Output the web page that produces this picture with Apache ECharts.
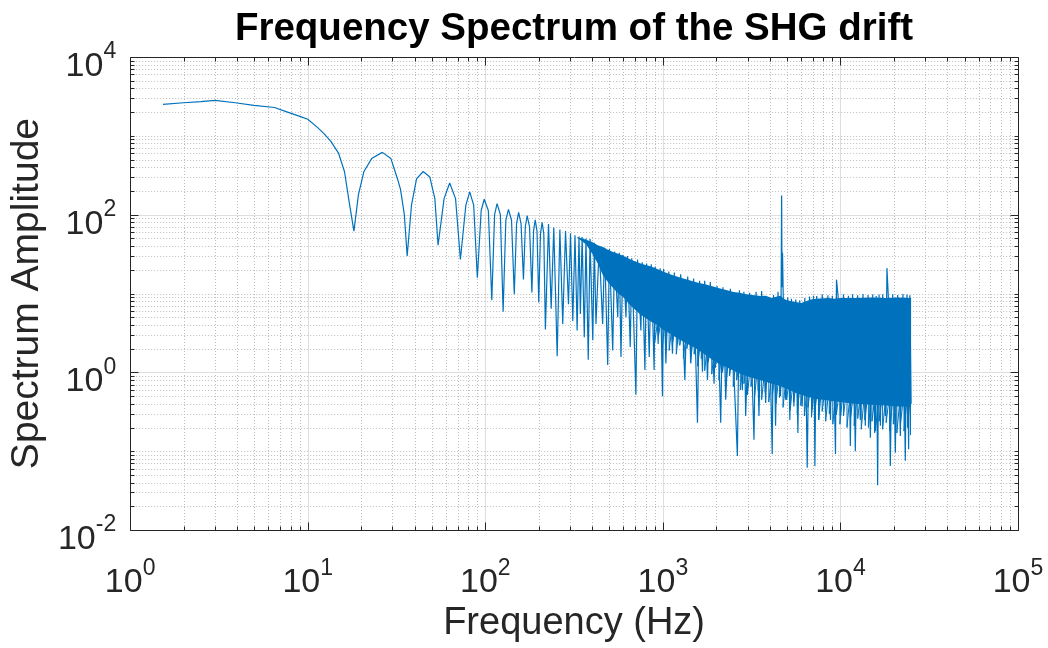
<!DOCTYPE html>
<html><head><meta charset="utf-8">
<script src="https://cdn.jsdelivr.net/npm/echarts@6/dist/echarts.min.js"></script>
<style>html,body{margin:0;padding:0;background:#fff}#c{width:1048px;height:648px}</style>
</head><body><div id="c"></div>
<script>
// ---- data ----
// Frequency (Hz) of each traced point of the spectrum line
const specF = [
  1.53, 2.0, 2.5, 3.0, 3.9, 4.97, 6.5, 7.7, 9.2, 10.0, 11.3, 12.3, 13.5, 14.9, 16.1, 17.2, 18.2,
  19.3, 20.7, 22.9, 26.3, 29.4, 32.1, 33.3, 35.0, 36.3,
  38.4, 41, 44.7, 48.7, 52, 54.2,
  58.6, 63, 68, 72.4,
  77.7, 81.7, 86, 90.2,
  94.8, 98.6, 104, 108.8,
  112.8, 116.5, 121.6, 126,
  130.5, 135, 140.5, 145.6,
  150, 154, 159, 164,
  168, 172, 177.5, 183,
  187, 191, 195.5, 200,
  204.5, 209, 213.5, 218,
  227, 235, 243, 254, 263, 273, 283, 294, 302, 311, 320, 329, 337, 343, 351, 361, 369, 380, 389, 403,
  411, 420, 438, 458, 470, 489, 500, 522, 535, 557, 568, 581, 595, 620, 632, 655, 668, 705, 720, 752,
  765, 792, 810, 838, 860, 893, 905, 941, 965, 995, 1010, 1040, 1080, 1133, 1160, 1210, 1260, 1330,
  1380, 1437, 1490, 1566, 1610, 1671, 1720, 1783, 1850, 1942, 2020, 2117, 2180, 2259, 2400, 2628,
  2700, 2803, 2860, 2926, 3080, 3260, 3350, 3477, 3600, 3793, 3950, 4130, 4200, 4312, 4450, 4600,
  4665, 4690, 4720, 4760, 4910, 5050, 5190, 5300, 5470, 5600, 5760, 5900, 6090, 6300, 6500, 6700,
  6940, 7050, 7180, 7350, 7560, 7900, 8240, 8500, 8790, 9000, 9380, 9500, 9700, 10000, 10400, 10900,
  11100, 11370, 11700, 12130, 12500, 12940, 13400, 13810, 14300, 14740, 15200, 15590, 15900, 16200,
  16500, 16790, 17300, 17910, 18280, 18600, 19100, 19700, 20380, 21000, 21740, 22500, 23190, 23700,
  24210, 24600, 25000
];
// Spectrum amplitude of each traced point
const specA = [
  2510, 2630, 2720, 2820, 2630, 2440, 2290, 2000, 1740, 1625, 1290, 1075, 850, 605, 353, 135, 62,
  180, 350, 515, 617, 515, 280, 209, 100, 30,
  132, 285, 353, 300, 160, 41,
  160, 252, 160, 27,
  132, 195, 132, 15.9,
  113, 157, 113, 8.2,
  100, 138, 100, 5.9,
  85, 117, 85, 9.8,
  77, 107, 77, 15.1,
  70, 97, 70, 10.3,
  62, 86, 62, 7.7,
  57, 80, 57, 3.5,
  76, 6.4, 69, 1.6, 65, 4.1, 62, 7.3, 58, 4.5, 55, 3.4, 53, 5.5, 52, 2.8, 50, 1.45, 49, 2.55,
  44, 4.1, 40, 4.1, 38, 1.24, 37, 1.9, 34, 5.0, 33, 1.57, 31, 5.0, 30, 2.1, 28, 0.52, 27, 3.4,
  25, 1.07, 24, 1.57, 23.5, 1.07, 22, 2.3, 21, 0.50, 20.5, 1.3, 19, 1.73, 18.5, 2.3, 17.5, 0.80,
  16.5, 1.3, 15.5, 0.23, 14.5, 1.02, 14.5, 0.8, 14, 0.72, 12.5, 0.23, 12, 0.45, 11.5, 0.087,
  11, 0.60, 10.5, 0.28, 10.2, 0.14, 10.5, 0.28, 10.8, 0.41, 9.0, 0.092, 9.6, 0.21, 10.5, 0.50,
  175, 12, 33, 10, 0.45, 9.0, 0.25, 8.6, 0.37, 8.4, 0.17, 8.2, 0.37, 8.8, 0.062, 9.2,
  0.34, 9.4, 0.065, 9.3, 0.25, 9.8, 0.31, 9.5, 0.25, 9.4, 0.092, 15, 9.3, 0.28, 9.8, 0.41,
  9.4, 0.117, 9.8, 0.10, 9.5, 0.25, 9.9, 0.21, 9.6, 0.148, 9.8, 0.17, 9.3, 0.037,
  9.7, 0.21, 9.8, 0.28, 21, 9.3, 0.065, 9.8, 0.096, 9.6, 0.156, 9.9, 0.076, 9.7,
  0.106, 9.5, 0.4
];
// Dense noise band: solid core between an upper and a lower edge
const coreF  = [330, 370, 400, 430, 460, 490, 520, 560, 600, 650, 700, 750, 800, 860, 930, 1000, 1070, 1150, 1250, 1350,
                1490, 1600, 1750, 1900, 2050, 2300, 2500, 2700, 2950, 3200, 3540, 3800, 4100, 4400, 4600, 4800, 5000,
                5300, 5600, 6000, 6400, 6800, 7300, 8000, 8600, 9200, 10000, 12000, 15000, 18000, 21000, 25000];
const coreHi = [52, 48, 45, 41, 39, 36, 34, 32, 30, 27.5, 25.5, 24, 23, 22, 20.5, 19, 18, 17, 16, 15.2,
                14.2, 13.6, 13, 12.4, 11.8, 11, 10.5, 10.2, 9.8, 9.6, 9.3, 9.4, 8.8, 9.2, 9.4, 8.6, 8.2,
                8.0, 7.8, 7.6, 8.0, 8.4, 8.6, 8.7, 8.8, 8.6, 8.8, 8.8, 8.9, 8.8, 8.9, 8.8];
const coreLo = [51, 42, 32, 24, 17, 14, 12, 10, 9, 7.2, 6.2, 5.4, 4.9, 4.4, 4.0, 3.5, 3.2, 2.9, 2.6, 2.35,
                2.1, 1.9, 1.65, 1.45, 1.3, 1.15, 1.05, 0.97, 0.9, 0.85, 0.8, 0.76, 0.72, 0.69, 0.67, 0.64, 0.62,
                0.58, 0.55, 0.52, 0.5, 0.48, 0.46, 0.45, 0.44, 0.43, 0.42, 0.4, 0.39, 0.38, 0.37, 0.37];
// Short dense spikes on the lower edge of the band: frequency, start inside band, tip
const fringeF   = [900, 945, 990, 1035, 1085, 1135, 1190, 1245, 1305, 1365, 1430, 1500, 1570, 1645, 1720, 1800, 1885,
                   1975, 2070, 2165, 2270, 2375, 2490, 2605, 2730, 2860, 2995, 3135, 3285, 3440, 3600, 3770, 3950,
                   4135, 4330, 4535, 4750, 4975, 5210, 5455, 5710, 5980, 6265, 6560, 6870, 7190, 7530, 7890, 8260,
                   8650, 9060, 9485, 9935, 10400, 10890, 11410, 11950, 12510, 13100, 13720, 14370, 15050, 15760,
                   16500, 17280, 18100, 18950, 19850, 20790, 21770, 22800, 23880, 24800];
const fringeTop = [6, 5.5, 5.5, 5, 5, 4.6, 4.4, 4.2, 4, 3.8, 3.6, 3.4, 3.2, 3.0, 2.9, 2.7, 2.6,
                   2.5, 2.3, 2.2, 2.1, 2.0, 1.9, 1.8, 1.7, 1.6, 1.5, 1.45, 1.4, 1.35, 1.3, 1.25, 1.2,
                   1.15, 1.1, 1.05, 1.0, 0.98, 0.95, 0.92, 0.9, 0.88, 0.85, 0.82, 0.8, 0.78, 0.76, 0.74, 0.72,
                   0.7, 0.7, 0.68, 0.68, 0.66, 0.66, 0.64, 0.64, 0.62, 0.62, 0.6, 0.6, 0.6, 0.58,
                   0.58, 0.58, 0.56, 0.56, 0.56, 0.55, 0.55, 0.55, 0.55, 0.55];
const fringeTip = [2.4, 2.9, 2.0, 2.6, 1.9, 2.4, 1.7, 2.2, 1.5, 2.0, 1.35, 1.7, 1.2, 1.5, 1.05, 1.35, 0.95,
                   1.15, 0.8, 1.0, 0.75, 0.9, 0.66, 0.8, 0.6, 0.72, 0.52, 0.66, 0.5, 0.6, 0.45, 0.56, 0.42,
                   0.52, 0.4, 0.48, 0.36, 0.45, 0.33, 0.42, 0.3, 0.38, 0.28, 0.36, 0.27, 0.34, 0.25, 0.32, 0.24,
                   0.3, 0.22, 0.29, 0.22, 0.28, 0.2, 0.27, 0.21, 0.26, 0.19, 0.25, 0.2, 0.24, 0.18,
                   0.24, 0.19, 0.23, 0.18, 0.22, 0.17, 0.22, 0.18, 0.2, 0.16];

const xExpLabels = [0, 1, 2, 3, 4, 5];
const yExpLabels = [-2, 0, 2, 4];

const titleText = 'Frequency Spectrum of the SHG drift';
const xName = 'Frequency (Hz)';
const yName = 'Spectrum Amplitude';

// ---- chart ----
const FONT = '"Liberation Sans", Arial, Helvetica, sans-serif';
const AX = '#262626';
const LINE = '#0072BD';

const specData = specF.map((f, i) => [f, specA[i]]);
const fringeData = [];
fringeF.forEach((f, i) => { fringeData.push([f, fringeTop[i]]); fringeData.push([f, fringeTip[i]]); });

const rich = {
  b: { fontSize: 34, lineHeight: 40, fontFamily: FONT, color: AX, verticalAlign: 'bottom' },
  s: { fontSize: 23, lineHeight: 23, fontFamily: FONT, color: AX, verticalAlign: 'bottom', padding: [0, 0, 20, 0] }
};
function sup(e) { return '{b|10}{s|' + e + '}'; }

function gridRender(params, api) {
  const cs = params.coordSys;
  const x0 = cs.x, y0 = cs.y, x1 = cs.x + cs.width, y1 = cs.y + cs.height;
  const ch = [];
  const px = v => Math.round(api.coord([v, 1])[0]) + 0.5;
  const py = v => Math.round(api.coord([10, v])[1]) + 0.5;
  const minor = { stroke: '#bdbdbd', lineWidth: 1, lineDash: [1, 2] };
  const major = { stroke: '#dedede', lineWidth: 1 };
  for (let k = 0; k < 5; k++) for (let m = 2; m <= 9; m++) {
    const X = px(m * Math.pow(10, k));
    ch.push({ type: 'line', shape: { x1: X, y1: y0, x2: X, y2: y1 }, style: minor });
  }
  for (let k = -2; k < 4; k++) for (let m = 1; m <= 9; m++) {
    if (m === 1 && k % 2 === 0) continue;
    const Y = py(m * Math.pow(10, k));
    ch.push({ type: 'line', shape: { x1: x0, y1: Y, x2: x1, y2: Y }, style: minor });
  }
  for (let k = 1; k < 5; k++) {
    const X = px(Math.pow(10, k));
    ch.push({ type: 'line', shape: { x1: X, y1: y0, x2: X, y2: y1 }, style: major });
  }
  [0, 2].forEach(k => {
    const Y = py(Math.pow(10, k));
    ch.push({ type: 'line', shape: { x1: x0, y1: Y, x2: x1, y2: Y }, style: major });
  });
  return { type: 'group', children: ch };
}

function frameRender(params, api) {
  const cs = params.coordSys;
  const x0 = Math.round(cs.x) + 0.5, y0 = Math.round(cs.y) + 0.5;
  const x1 = Math.round(cs.x + cs.width) + 0.5, y1 = Math.round(cs.y + cs.height) + 0.5;
  const ch = [];
  const px = v => Math.round(api.coord([v, 1])[0]) + 0.5;
  const py = v => Math.round(api.coord([10, v])[1]) + 0.5;
  const st = { stroke: AX, lineWidth: 1 };
  const MAJ = 8, MIN = 4;
  for (let k = 0; k <= 5; k++) {
    const X = px(Math.pow(10, k));
    ch.push({ type: 'line', shape: { x1: X, y1: y1, x2: X, y2: y1 - MAJ }, style: st });
    ch.push({ type: 'line', shape: { x1: X, y1: y0, x2: X, y2: y0 + MAJ }, style: st });
    if (k < 5) for (let m = 2; m <= 9; m++) {
      const Xm = px(m * Math.pow(10, k));
      ch.push({ type: 'line', shape: { x1: Xm, y1: y1, x2: Xm, y2: y1 - MIN }, style: st });
      ch.push({ type: 'line', shape: { x1: Xm, y1: y0, x2: Xm, y2: y0 + MIN }, style: st });
    }
  }
  for (let k = -2; k <= 4; k++) {
    const L = (k % 2 === 0) ? MAJ : MIN;
    const Y = py(Math.pow(10, k));
    ch.push({ type: 'line', shape: { x1: x0, y1: Y, x2: x0 + L, y2: Y }, style: st });
    ch.push({ type: 'line', shape: { x1: x1, y1: Y, x2: x1 - L, y2: Y }, style: st });
    if (k < 4) for (let m = 2; m <= 9; m++) {
      const Ym = py(m * Math.pow(10, k));
      ch.push({ type: 'line', shape: { x1: x0, y1: Ym, x2: x0 + MIN, y2: Ym }, style: st });
      ch.push({ type: 'line', shape: { x1: x1, y1: Ym, x2: x1 - MIN, y2: Ym }, style: st });
    }
  }
  ch.push({ type: 'rect', shape: { x: x0, y: y0, width: x1 - x0, height: y1 - y0 }, style: { fill: null, stroke: AX, lineWidth: 1 } });
  return { type: 'group', children: ch };
}

function bandRender(params, api) {
  const pts = [];
  for (let i = 0; i < coreF.length; i++) pts.push(api.coord([coreF[i], coreHi[i]]));
  for (let i = coreF.length - 1; i >= 0; i--) pts.push(api.coord([coreF[i], coreLo[i]]));
  return { type: 'polygon', shape: { points: pts }, style: { fill: LINE } };
}

const chart = echarts.init(document.getElementById('c'), null, { renderer: 'canvas' });
chart.setOption({
  animation: false,
  backgroundColor: '#ffffff',
  grid: { left: 128, right: 30, top: 57, bottom: 113, containLabel: false },
  graphic: [{
    type: 'text', x: 574, y: 29, z: 100,
    style: { text: titleText, font: 'bold 38.5px ' + FONT, fill: '#000', textAlign: 'center', textVerticalAlign: 'middle' }
  }],
  xAxis: {
    type: 'log', logBase: 10, min: 1, max: 100000, splitNumber: 5,
    axisLine: { show: false }, axisTick: { show: false }, splitLine: { show: false },
    axisLabel: {
      showMinLabel: true, showMaxLabel: true, margin: 30,
      formatter: v => { const e = Math.round(Math.log10(v)); return xExpLabels.indexOf(e) >= 0 ? sup(e) : ''; },
      rich: rich
    },
    name: xName, nameLocation: 'middle', nameGap: 63,
    nameTextStyle: { fontSize: 38, fontFamily: FONT, color: AX }
  },
  yAxis: {
    type: 'log', logBase: 10, min: 0.01, max: 10000, splitNumber: 6,
    axisLine: { show: false }, axisTick: { show: false }, splitLine: { show: false },
    axisLabel: {
      showMinLabel: true, showMaxLabel: true, margin: 14, padding: [13, 0, 0, 0],
      formatter: v => { const e = Math.round(Math.log10(v)); return yExpLabels.indexOf(e) >= 0 ? sup(e) : ''; },
      rich: rich
    },
    name: yName, nameLocation: 'middle', nameGap: 78,
    nameTextStyle: { fontSize: 39, fontFamily: FONT, color: AX }
  },
  series: [
    { type: 'custom', name: 'grid', renderItem: gridRender, data: [[10, 1]], silent: true, z: 1, clip: false },
    { type: 'custom', name: 'band', renderItem: bandRender, data: [[10, 1]], silent: true, z: 2 },
    { type: 'line', name: 'fringe', data: fringeData, showSymbol: false, symbol: 'none', sampling: null,
      lineStyle: { color: LINE, width: 1 }, z: 3, silent: true },
    { type: 'line', name: 'spectrum', data: specData, showSymbol: false, symbol: 'none', sampling: null,
      lineStyle: { color: LINE, width: 1.2 }, itemStyle: { color: LINE }, z: 3, silent: true },
    { type: 'custom', name: 'frame', renderItem: frameRender, data: [[10, 1]], silent: true, z: 4, clip: false }
  ]
});
</script>
</body></html>
